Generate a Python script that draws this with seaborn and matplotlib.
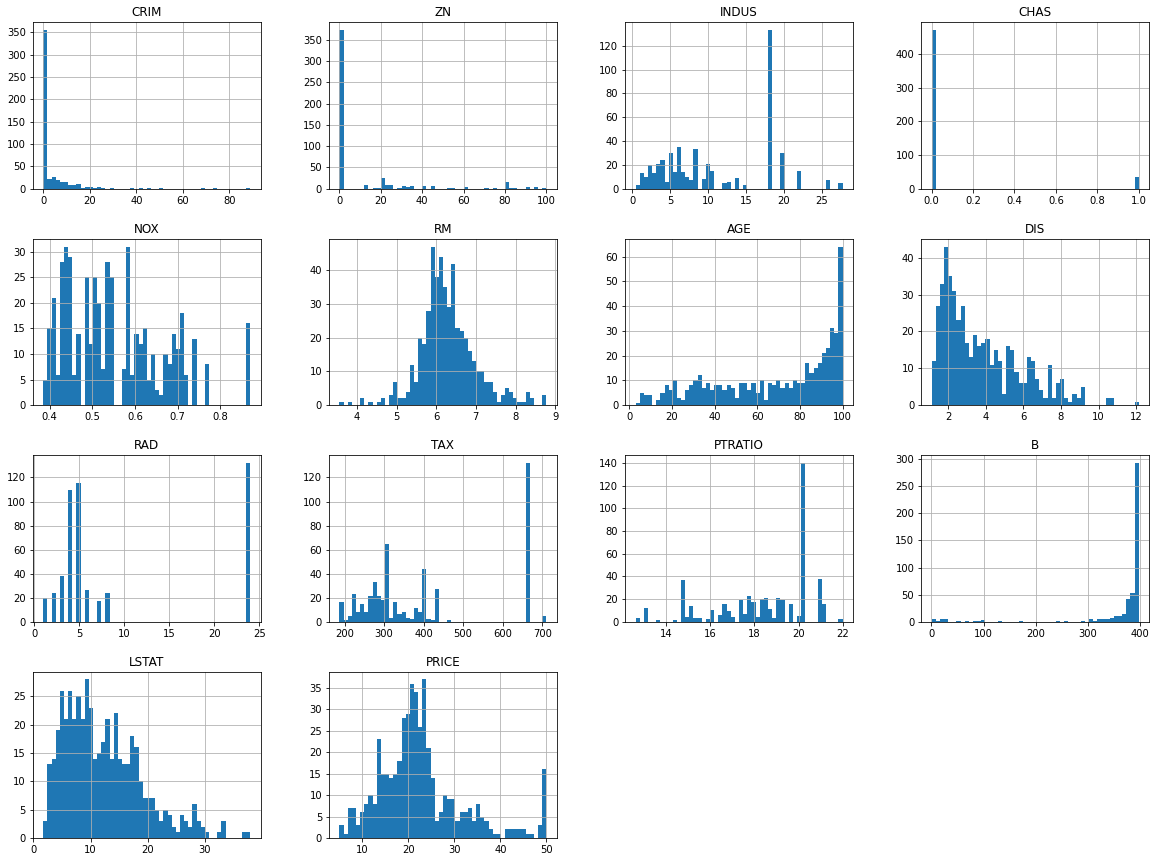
import matplotlib
matplotlib.use("Agg")
import matplotlib.pyplot as plt
import seaborn as sns
import numpy as np

# bin counts (50 bins each), with the column's min/max
crim_range = (0.00632, 88.9762)
crim_counts = [355, 22, 26, 20, 16, 16, 9, 9, 11, 2, 4, 4, 2, 3, 2, 0, 2, 0, 0, 0,
               0, 2, 0, 1, 0, 1, 0, 0, 1, 0, 0, 0, 0, 0, 0, 0, 0, 0, 1, 0,
               0, 1, 0, 0, 0, 0, 0, 0, 0, 1]

zn_range = (0, 100)
zn_counts = [372, 0, 0, 0, 0, 0, 10, 0, 1, 1, 25, 10, 10, 0, 3, 6, 4, 6, 0, 0,
             7, 0, 6, 0, 0, 0, 3, 3, 0, 0, 4, 0, 0, 0, 0, 3, 0, 3, 0, 0,
             15, 2, 2, 0, 0, 5, 0, 4, 0, 1]

indus_range = (0.46, 27.74)
indus_counts = [3, 13, 10, 20, 13, 21, 24, 6, 30, 14, 35, 14, 10, 7, 33, 0, 8, 21, 15, 0,
                0, 5, 6, 0, 9, 0, 3, 0, 0, 0, 0, 0, 133, 0, 0, 30, 0, 0, 0, 15,
                0, 0, 0, 0, 0, 0, 7, 0, 0, 5]

chas_range = (0, 1)
chas_counts = [471] + [0] * 48 + [35]

nox_range = (0.385, 0.871)
nox_counts = [5, 15, 21, 6, 28, 31, 29, 6, 14, 0, 25, 12, 25, 20, 7, 28, 25, 0, 0, 7,
              31, 6, 14, 12, 15, 5, 10, 3, 2, 10, 8, 14, 11, 18, 6, 0, 13, 0, 0, 8,
              0, 0, 0, 0, 0, 0, 0, 0, 0, 16]

rm_range = (3.561, 8.78)
rm_counts = [1, 0, 1, 0, 0, 2, 0, 1, 0, 1, 2, 0, 3, 7, 2, 2, 4, 12, 7, 20,
             18, 28, 47, 38, 44, 35, 29, 42, 23, 22, 20, 16, 13, 10, 10, 7, 7, 4, 1, 3,
             5, 4, 2, 1, 1, 4, 2, 0, 0, 3]

age_range = (2.9, 100)
age_counts = [1, 5, 4, 4, 0, 2, 5, 8, 6, 10, 3, 2, 6, 8, 10, 12, 7, 9, 6, 8,
              8, 6, 8, 7, 3, 9, 9, 6, 9, 5, 10, 2, 9, 8, 10, 7, 9, 7, 10, 9,
              9, 17, 13, 15, 17, 21, 23, 31, 29, 64]

dis_range = (1.1296, 12.1265)
dis_counts = [12, 27, 33, 43, 35, 31, 23, 27, 17, 13, 19, 16, 17, 18, 11, 15, 12, 3, 16, 15,
              9, 6, 6, 13, 12, 7, 4, 2, 11, 2, 6, 7, 2, 1, 3, 2, 5, 0, 0, 0,
              0, 0, 2, 2, 0, 0, 0, 0, 0, 1]

rad_range = (1, 24)
rad_counts = [20, 0, 24, 0, 38, 0, 110, 0, 115, 0, 26, 0, 0, 17, 0, 24, 0, 0, 0, 0,
              0, 0, 0, 0, 0, 0, 0, 0, 0, 0, 0, 0, 0, 0, 0, 0, 0, 0, 0, 0,
              0, 0, 0, 0, 0, 0, 0, 0, 0, 132]

tax_range = (187, 711)
tax_counts = [16, 1, 5, 23, 8, 15, 8, 21, 33, 21, 18, 65, 3, 16, 6, 8, 3, 2, 11, 8,
              44, 2, 1, 27, 0, 0, 1, 0, 0, 0, 0, 0, 0, 0, 0, 0, 0, 0, 0, 0,
              0, 0, 0, 0, 0, 132, 0, 0, 0, 5]

ptratio_range = (12.6, 22.0)
ptratio_counts = [3, 0, 12, 0, 0, 1, 0, 0, 0, 1, 0, 37, 4, 14, 3, 3, 0, 2, 10, 0,
                  6, 16, 9, 4, 0, 19, 7, 23, 17, 4, 20, 21, 11, 3, 21, 19, 0, 16, 0, 5,
                  140, 0, 0, 0, 38, 16, 0, 0, 0, 2]

b_range = (0.32, 396.9)
b_counts = [5, 2, 4, 4, 0, 0, 2, 0, 2, 0, 2, 2, 3, 0, 0, 0, 2, 0, 0, 0,
            0, 2, 0, 0, 0, 0, 0, 0, 0, 0, 2, 0, 2, 0, 0, 0, 2, 0, 4, 2,
            4, 4, 4, 7, 11, 10, 15, 41, 52, 293]

lstat_range = (1.73, 37.97)
lstat_counts = [3, 13, 14, 19, 26, 21, 26, 21, 25, 21, 28, 23, 14, 15, 17, 21, 14, 22, 14, 13,
                13, 18, 16, 10, 7, 7, 7, 5, 3, 5, 4, 2, 1, 4, 3, 2, 6, 3, 2, 1,
                0, 0, 1, 3, 0, 0, 0, 0, 1, 1]

price_range = (5, 50)
price_counts = [3, 1, 7, 7, 3, 6, 8, 10, 8, 23, 15, 15, 14, 15, 18, 28, 29, 36, 34, 26,
                37, 21, 14, 4, 6, 10, 9, 9, 4, 6, 6, 7, 4, 8, 5, 4, 2, 1, 1, 0,
                2, 2, 2, 2, 2, 1, 1, 0, 3, 16]

columns = ["CRIM", "ZN", "INDUS", "CHAS", "NOX", "RM", "AGE", "DIS",
           "RAD", "TAX", "PTRATIO", "B", "LSTAT", "PRICE"]
counts = [crim_counts, zn_counts, indus_counts, chas_counts, nox_counts, rm_counts,
          age_counts, dis_counts, rad_counts, tax_counts, ptratio_counts, b_counts,
          lstat_counts, price_counts]
ranges = [crim_range, zn_range, indus_range, chas_range, nox_range, rm_range,
          age_range, dis_range, rad_range, tax_range, ptratio_range, b_range,
          lstat_range, price_range]

fig = plt.figure(figsize=(1157 / 72, 862 / 72), dpi=72)
axes = fig.subplots(4, 4)
fig.subplots_adjust(left=0.0285, right=0.9931, bottom=0.0278, top=0.9741,
                    wspace=0.3, hspace=0.3)

for ax, name, cnt, rng in zip(axes.flat, columns, counts, ranges):
    edges = np.linspace(rng[0], rng[1], len(cnt) + 1)
    centers = (edges[:-1] + edges[1:]) / 2
    sns.histplot(x=centers, weights=cnt, bins=len(cnt), binrange=rng, ax=ax,
                 color="#1f77b4", alpha=1, linewidth=0)
    ax.set_title(name, fontsize=12)
    ax.set_xlabel("")
    ax.set_ylabel("")
    ax.grid(True)

for ax in axes.flat[len(columns):]:
    ax.set_visible(False)

fig.savefig("out.png", dpi=72)
